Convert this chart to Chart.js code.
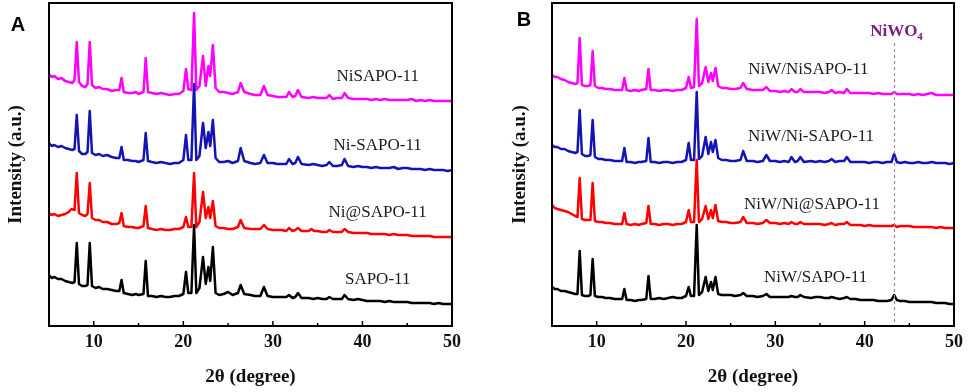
<!DOCTYPE html>
<html>
<head>
<meta charset="utf-8">
<script src="https://cdn.jsdelivr.net/npm/chart.js@4.4.1/dist/chart.umd.min.js"></script>
<style>
	html, body { margin: 0; padding: 0; background: #fff; }
	#wrap { position: relative; width: 969px; height: 392px; }
	canvas { position: absolute; top: 0; }
	#chartA { left: 0; }
	#chartB { left: 484px; }
</style>
</head>
<body>
<div id="wrap">
	<canvas id="chartA" width="484" height="392"></canvas>
	<canvas id="chartB" width="485" height="392"></canvas>
</div>
<script>
// x tick labels (2theta, degree)
var tickLabels = [10, 20, 30, 40, 50];
var minorTicks = [15, 25, 35, 45];

// panel A : [2theta, intensity (a.u., stacked)]
var sapoA = [[5.0,51],[5.3,48],[5.6,49],[6.0,47],[6.4,47],[6.8,45],[7.2,44],[7.6,43],[7.85,44],[8.1,83],[8.35,42],[8.7,40],[9.05,40],[9.3,41],[9.55,83],[9.8,40],[10.2,38],[10.6,39],[11.0,37],[11.5,37],[12.0,36],[12.5,35],[12.85,35],[13.1,46],[13.35,33],[13.8,32],[14.3,31],[14.7,32],[15.0,31],[15.55,32],[15.8,65],[16.05,30],[16.5,30],[17.0,29],[17.5,30],[18.0,29],[18.5,29],[19.0,30],[19.5,30],[20.0,32],[20.3,54],[20.55,33],[20.9,33],[21.2,101],[21.45,33],[21.8,38],[22.2,69],[22.5,42],[22.8,59],[23.0,45],[23.3,79],[23.6,33],[24.0,31],[24.5,32],[25.0,34],[25.5,31],[26.1,33],[26.4,41],[26.8,32],[27.5,31],[28.0,30],[28.6,30],[29.0,39],[29.4,30],[30.0,29],[30.5,29],[31.0,29],[31.5,29],[31.8,31],[32.2,28],[32.5,29],[32.8,33],[33.2,28],[34.0,28],[34.5,27],[35.0,28],[35.5,27],[36.0,27],[36.3,29],[36.7,27],[37.2,27],[37.7,27],[38.0,31],[38.4,27],[39.0,26],[39.5,27],[40.0,26],[40.5,25],[41.0,25],[41.5,25],[42.0,25],[42.5,24],[43.0,25],[43.5,24],[44.0,24],[44.5,24],[45.0,24],[45.5,23],[46.0,23],[46.5,23],[47.0,23],[47.5,23],[48.0,22],[48.5,23],[49.0,22],[49.5,22],[50.0,22]];

var niAtSapoA = [[5.0,113],[5.3,111],[5.6,112],[6.0,110],[6.4,111],[6.8,112],[7.2,114],[7.5,117],[7.85,116],[8.1,153],[8.35,113],[8.7,111],[9.05,110],[9.3,112],[9.55,143],[9.8,108],[10.2,106],[10.6,106],[11.0,104],[11.5,104],[12.0,102],[12.5,102],[12.85,103],[13.1,113],[13.35,100],[13.8,99],[14.3,99],[14.7,98],[15.0,98],[15.55,100],[15.8,120],[16.05,98],[16.5,97],[17.0,96],[17.5,97],[18.0,96],[18.5,96],[19.0,97],[19.5,97],[20.0,99],[20.3,109],[20.55,99],[20.9,99],[21.2,153],[21.45,99],[21.8,104],[22.2,134],[22.5,108],[22.8,119],[23.0,108],[23.3,125],[23.6,100],[24.0,98],[24.5,98],[25.0,97],[25.5,97],[26.1,99],[26.4,106],[26.8,98],[27.5,97],[28.0,97],[28.6,97],[29.0,101],[29.4,97],[30.0,96],[30.5,96],[31.0,96],[31.5,95],[31.8,98],[32.2,95],[32.5,96],[32.8,98],[33.2,95],[34.0,95],[34.3,97],[34.6,95],[35.0,95],[35.5,94],[36.0,94],[36.3,96],[36.7,94],[37.2,94],[37.7,94],[38.0,97],[38.4,94],[39.0,93],[39.5,93],[40.0,93],[40.5,93],[41.0,92],[41.5,92],[42.0,92],[42.5,92],[43.0,91],[43.5,92],[44.0,91],[44.5,91],[45.0,91],[45.5,90],[46.0,90],[46.5,90],[47.0,90],[47.5,90],[48.0,89],[48.5,89],[49.0,89],[49.5,89],[50.0,89]];

var niDashSapoA = [[5.0,183],[5.3,180],[5.6,181],[6.0,179],[6.4,180],[6.8,178],[7.2,177],[7.6,176],[7.85,177],[8.1,211],[8.35,175],[8.7,172],[9.05,172],[9.3,174],[9.55,215],[9.8,173],[10.2,171],[10.6,172],[11.0,170],[11.5,171],[12.0,169],[12.5,168],[12.85,168],[13.1,179],[13.35,166],[13.8,166],[14.3,165],[14.7,165],[15.0,164],[15.55,166],[15.8,193],[16.05,165],[16.5,164],[17.0,163],[17.5,164],[18.0,163],[18.5,162],[19.0,163],[19.5,163],[20.0,166],[20.3,191],[20.55,166],[20.9,166],[21.2,242],[21.45,166],[21.8,170],[22.2,203],[22.5,178],[22.8,194],[23.0,180],[23.3,206],[23.6,168],[24.0,164],[24.5,164],[25.0,165],[25.5,163],[26.1,165],[26.4,178],[26.8,165],[27.5,163],[28.0,162],[28.6,163],[29.0,171],[29.4,163],[30.0,163],[30.5,162],[31.0,162],[31.5,162],[31.8,167],[32.2,162],[32.5,163],[32.8,169],[33.2,162],[34.0,161],[34.5,162],[35.0,161],[35.5,160],[36.0,161],[36.3,164],[36.7,160],[37.2,160],[37.7,161],[38.0,167],[38.4,160],[39.0,159],[39.5,160],[40.0,159],[40.5,159],[41.0,158],[41.5,159],[42.0,158],[42.5,158],[43.0,158],[43.5,159],[44.0,157],[44.5,158],[45.0,158],[45.5,157],[46.0,157],[46.5,157],[47.0,156],[47.5,157],[48.0,156],[48.5,156],[49.0,156],[49.5,155],[50.0,156]];

var niSapoA = [[5.0,252],[5.3,249],[5.6,250],[6.0,247],[6.4,248],[6.8,245],[7.2,244],[7.6,243],[7.85,246],[8.1,284],[8.35,244],[8.7,240],[9.05,239],[9.3,242],[9.55,284],[9.8,241],[10.2,238],[10.6,239],[11.0,237],[11.5,237],[12.0,235],[12.5,236],[12.85,236],[13.1,248],[13.35,234],[13.8,233],[14.3,233],[14.7,234],[15.0,232],[15.55,234],[15.8,268],[16.05,234],[16.5,233],[17.0,232],[17.5,233],[18.0,232],[18.5,231],[19.0,232],[19.5,232],[20.0,235],[20.3,257],[20.55,237],[20.9,236],[21.2,313],[21.45,236],[21.8,240],[22.2,270],[22.5,240],[22.8,260],[23.0,250],[23.3,281],[23.6,238],[24.0,234],[24.5,234],[25.0,233],[25.5,232],[26.1,234],[26.4,243],[26.8,234],[27.5,232],[28.0,231],[28.6,231],[29.0,240],[29.4,231],[30.0,230],[30.5,229],[31.0,229],[31.5,229],[31.8,234],[32.2,229],[32.5,230],[32.8,236],[33.2,229],[34.0,228],[34.5,229],[35.0,228],[35.5,228],[36.0,228],[36.3,231],[36.7,227],[37.2,228],[37.7,228],[38.0,233],[38.4,228],[39.0,227],[39.5,227],[40.0,227],[40.5,227],[41.0,226],[41.5,227],[42.0,226],[42.5,227],[43.0,226],[43.5,226],[44.0,226],[44.5,226],[45.0,226],[45.5,227],[46.0,225],[46.5,226],[47.0,225],[47.5,226],[48.0,225],[48.5,225],[49.0,225],[49.5,225],[50.0,225]];

// panel B
var niwSapoB = [[5.0,39],[5.3,37],[5.6,37],[6.0,35],[6.4,35],[6.8,34],[7.2,33],[7.6,32],[7.85,32],[8.1,75],[8.35,31],[8.7,30],[9.05,30],[9.3,31],[9.55,67],[9.8,30],[10.2,29],[10.6,29],[11.0,28],[11.5,28],[12.0,27],[12.5,27],[12.85,27],[13.1,37],[13.35,26],[13.8,26],[14.3,25],[14.7,26],[15.0,26],[15.55,27],[15.8,50],[16.05,27],[16.5,27],[17.0,28],[17.5,27],[18.0,28],[18.5,29],[19.0,28],[19.5,28],[20.0,30],[20.3,39],[20.55,30],[20.9,30],[21.2,101],[21.45,31],[21.8,34],[22.2,49],[22.5,35],[22.8,44],[23.0,36],[23.3,49],[23.6,32],[24.0,31],[24.5,31],[25.0,31],[25.5,30],[26.1,31],[26.4,33],[26.8,30],[27.5,30],[28.0,29],[28.6,30],[29.0,32],[29.4,29],[30.0,29],[30.5,29],[31.0,29],[31.5,29],[31.8,30],[32.2,29],[32.5,29],[32.8,31],[33.2,29],[34.0,28],[34.5,29],[35.0,29],[35.5,28],[36.0,28],[36.3,29],[36.7,28],[37.2,27],[37.7,28],[38.0,29],[38.4,27],[39.0,27],[39.5,26],[40.0,26],[40.5,26],[41.0,26],[41.5,25],[42.0,25],[42.5,25],[43.0,26],[43.3,31],[43.6,26],[44.0,25],[44.5,25],[45.0,24],[45.5,24],[46.0,24],[46.5,24],[47.0,24],[47.5,24],[48.0,23],[48.5,23],[49.0,23],[49.5,22],[50.0,22]];

var niwNiAtSapoB = [[5.0,121],[5.3,118],[5.6,117],[6.0,116],[6.4,115],[6.8,114],[7.2,112],[7.6,110],[7.85,109],[8.1,148],[8.35,107],[8.7,106],[9.05,106],[9.3,106],[9.55,143],[9.8,105],[10.2,104],[10.6,104],[11.0,103],[11.5,103],[12.0,102],[12.5,102],[12.85,102],[13.1,113],[13.35,102],[13.8,101],[14.3,102],[14.7,101],[15.0,102],[15.55,103],[15.8,120],[16.05,102],[16.5,102],[17.0,101],[17.5,102],[18.0,102],[18.5,101],[19.0,102],[19.5,102],[20.0,104],[20.3,116],[20.55,104],[20.9,104],[21.2,166],[21.45,104],[21.8,107],[22.2,120],[22.5,107],[22.8,116],[23.0,108],[23.3,121],[23.6,105],[24.0,104],[24.5,104],[25.0,103],[25.5,103],[26.1,104],[26.4,109],[26.8,103],[27.5,103],[28.0,102],[28.6,103],[29.0,106],[29.4,103],[30.0,103],[30.5,102],[31.0,103],[31.5,102],[31.8,104],[32.2,102],[32.5,102],[32.8,104],[33.2,102],[34.0,102],[34.5,102],[35.0,102],[35.5,101],[36.0,102],[36.3,103],[36.7,101],[37.2,102],[37.7,102],[38.0,104],[38.4,101],[39.0,101],[39.5,101],[40.0,100],[40.5,101],[41.0,100],[41.5,100],[42.0,100],[42.5,100],[43.0,100],[43.3,101],[43.6,99],[44.0,100],[44.5,100],[45.0,100],[45.5,99],[46.0,99],[46.5,99],[47.0,99],[47.5,99],[48.0,98],[48.5,99],[49.0,98],[49.5,98],[50.0,98]];

var niwNiDashSapoB = [[5.0,181],[5.3,179],[5.6,179],[6.0,177],[6.4,177],[6.8,175],[7.2,174],[7.6,173],[7.85,174],[8.1,216],[8.35,172],[8.7,170],[9.05,170],[9.3,171],[9.55,206],[9.8,169],[10.2,167],[10.6,167],[11.0,166],[11.5,166],[12.0,165],[12.5,165],[12.85,165],[13.1,178],[13.35,164],[13.8,164],[14.3,163],[14.7,164],[15.0,164],[15.55,165],[15.8,188],[16.05,164],[16.5,164],[17.0,163],[17.5,164],[18.0,164],[18.5,163],[19.0,164],[19.5,164],[20.0,166],[20.3,183],[20.55,166],[20.9,166],[21.2,234],[21.45,167],[21.8,170],[22.2,189],[22.5,172],[22.8,184],[23.0,174],[23.3,186],[23.6,168],[24.0,166],[24.5,166],[25.0,165],[25.5,165],[26.1,166],[26.4,175],[26.8,165],[27.5,165],[28.0,164],[28.6,165],[29.0,171],[29.4,165],[30.0,165],[30.5,164],[31.0,165],[31.5,164],[31.8,169],[32.2,164],[32.5,165],[32.8,169],[33.2,164],[34.0,165],[34.5,164],[35.0,165],[35.5,164],[36.0,165],[36.3,167],[36.7,164],[37.2,165],[37.7,165],[38.0,169],[38.4,164],[39.0,164],[39.5,164],[40.0,164],[40.5,163],[41.0,164],[41.5,164],[42.0,163],[42.5,164],[43.0,164],[43.3,172],[43.6,164],[44.0,163],[44.5,164],[45.0,163],[45.5,163],[46.0,164],[46.5,163],[47.0,163],[47.5,164],[48.0,163],[48.5,163],[49.0,163],[49.5,162],[50.0,163]];

var niwNiSapoB = [[5.0,251],[5.3,249],[5.6,249],[6.0,247],[6.4,246],[6.8,244],[7.2,243],[7.6,242],[7.85,243],[8.1,288],[8.35,241],[8.7,240],[9.05,240],[9.3,241],[9.55,275],[9.8,240],[10.2,238],[10.6,238],[11.0,237],[11.5,237],[12.0,236],[12.5,236],[12.85,236],[13.1,248],[13.35,236],[13.8,235],[14.3,236],[14.7,235],[15.0,236],[15.55,237],[15.8,257],[16.05,236],[16.5,236],[17.0,235],[17.5,236],[18.0,236],[18.5,235],[19.0,236],[19.5,236],[20.0,238],[20.3,249],[20.55,238],[20.9,239],[21.2,307],[21.45,240],[21.8,243],[22.2,259],[22.5,244],[22.8,253],[23.0,245],[23.3,258],[23.6,240],[24.0,238],[24.5,238],[25.0,237],[25.5,237],[26.1,238],[26.4,243],[26.8,237],[27.5,236],[28.0,236],[28.6,236],[29.0,239],[29.4,235],[30.0,235],[30.5,234],[31.0,235],[31.5,234],[31.8,237],[32.2,234],[32.5,234],[32.8,237],[33.2,234],[34.0,234],[34.5,234],[35.0,234],[35.5,233],[36.0,234],[36.3,236],[36.7,233],[37.2,234],[37.7,233],[38.0,237],[38.4,233],[39.0,233],[39.5,233],[40.0,233],[40.5,233],[41.0,232],[41.5,233],[42.0,232],[42.5,232],[43.0,232],[43.3,234],[43.6,232],[44.0,232],[44.5,232],[45.0,232],[45.5,231],[46.0,232],[46.5,231],[47.0,232],[47.5,233],[48.0,231],[48.5,231],[49.0,231],[49.5,231],[50.0,231]];

var namesA = ['SAPO-11', 'Ni@SAPO-11', 'Ni-SAPO-11', 'NiSAPO-11'];
var namesB = ['NiW/SAPO-11', 'NiW/Ni@SAPO-11', 'NiW/Ni-SAPO-11', 'NiW/NiSAPO-11'];
var colors = ['#000000', '#ff0000', '#1414b4', '#ff00ff'];
var niwo4Angle = 43.3;

var SERIF = '"Liberation Serif", "Times New Roman", serif';

function toXY(arr) {
	return arr.map(p => ({x: p[0], y: p[1]}));
}

// frame, inward ticks, curve labels, panel letter
var decorPlugin = {
	id: 'decor',
	afterDatasetsDraw(chart, args, opts) {
		let ctx = chart.ctx;
		let a = chart.chartArea;
		let xs = chart.scales.x;
		let ys = chart.scales.y;
		ctx.save();

		if (opts.marker) {
			let px = Math.round(xs.getPixelForValue(opts.marker.x)) + 0.5;
			ctx.strokeStyle = '#a77db0';
			ctx.lineWidth = 1.2;
			ctx.setLineDash([3, 3]);
			ctx.beginPath();
			ctx.moveTo(px, ys.getPixelForValue(opts.marker.top));
			ctx.lineTo(px, a.bottom);
			ctx.stroke();
			ctx.setLineDash([]);
			ctx.fillStyle = '#7d1f80';
			ctx.font = 'bold 17px ' + SERIF;
			ctx.textBaseline = 'middle';
			let ty = ys.getPixelForValue(opts.marker.labelY);
			let w = ctx.measureText('NiWO').width;
			ctx.font = 'bold 11px ' + SERIF;
			let w4 = ctx.measureText('4').width;
			let x0 = px - (w + w4) / 2 + 2;
			ctx.font = 'bold 17px ' + SERIF;
			ctx.textAlign = 'left';
			ctx.fillText('NiWO', x0, ty);
			ctx.font = 'bold 11px ' + SERIF;
			ctx.fillText('4', x0 + w, ty + 5);
		}

		ctx.strokeStyle = '#000';
		ctx.lineWidth = 2;
		ctx.strokeRect(a.left, a.top, a.right - a.left, a.bottom - a.top);

		ctx.lineWidth = 1.5;
		tickLabels.forEach(v => {
			let px = xs.getPixelForValue(v);
			ctx.beginPath();
			ctx.moveTo(px, a.bottom);
			ctx.lineTo(px, a.bottom - 5);
			ctx.stroke();
		});
		minorTicks.forEach(v => {
			let px = xs.getPixelForValue(v);
			ctx.beginPath();
			ctx.moveTo(px, a.bottom);
			ctx.lineTo(px, a.bottom - 3);
			ctx.stroke();
		});

		ctx.fillStyle = '#1a1a1a';
		ctx.font = '17px ' + SERIF;
		ctx.textAlign = 'center';
		ctx.textBaseline = 'middle';
		opts.labels.forEach(l => {
			ctx.fillText(l.text, xs.getPixelForValue(l.x), ys.getPixelForValue(l.y));
		});

		ctx.fillStyle = '#000';
		ctx.font = 'bold 20px "Liberation Sans", Arial, sans-serif';
		ctx.fillText(opts.letter.text, opts.letter.x, opts.letter.y);
		ctx.restore();
	}
};

function makeChart(id, series, names, cfg) {
	let ctx = $id(id).getContext('2d');
	return new Chart(ctx, {
		type: 'line',
		data: {
			datasets: series.map((s, i) => ({
				label: names[i],
				data: toXY(s),
				borderColor: colors[i],
				borderWidth: 2.5,
				borderJoinStyle: 'round',
				pointRadius: 0,
				tension: 0,
				fill: false
			}))
		},
		options: {
			responsive: false,
			animation: false,
			devicePixelRatio: 1,
			layout: {
				padding: {left: 0, right: cfg.padRight, top: 3, bottom: 0}
			},
			plugins: {
				legend: {display: false},
				tooltip: {enabled: false},
				decor: cfg.decor
			},
			scales: {
				x: {
					type: 'linear',
					min: 5,
					max: 50,
					afterBuildTicks: (s) => { s.ticks = tickLabels.map(v => ({value: v})); },
					afterFit: (s) => { s.height = 66; },
					grid: {display: false, drawTicks: false},
					border: {display: false},
					ticks: {
						color: '#111',
						padding: 6,
						font: {family: SERIF, size: 18, weight: 'bold', lineHeight: 1.2}
					},
					title: {
						display: true,
						text: '2θ (degree)',
						color: '#111',
						padding: {top: 0, bottom: 4},
						font: {family: SERIF, size: 19, weight: 'bold', lineHeight: 1.2}
					}
				},
				y: {
					min: 0,
					max: 323,
					afterFit: (s) => { s.width = cfg.yWidth; },
					grid: {display: false, drawTicks: false},
					border: {display: false},
					ticks: {display: false},
					title: {
						display: true,
						text: 'Intensity (a.u.)',
						color: '#111',
						padding: {top: cfg.yTitlePad, bottom: 0},
						font: {family: SERIF, size: 19, weight: 'bold', lineHeight: 1.2}
					}
				}
			}
		},
		plugins: [decorPlugin]
	});
}

function $id(id) { return document.getElementById(id); }

makeChart('chartA', [sapoA, niAtSapoA, niDashSapoA, niSapoA], namesA, {
	padRight: 32,
	yWidth: 49,
	yTitlePad: 5,
	decor: {
		letter: {text: 'A', x: 18, y: 25},
		labels: [
			{text: namesA[3], x: 41.7, y: 249},
			{text: namesA[2], x: 41.7, y: 180},
			{text: namesA[1], x: 41.7, y: 113},
			{text: namesA[0], x: 41.7, y: 46}
		]
	}
});

makeChart('chartB', [niwSapoB, niwNiAtSapoB, niwNiDashSapoB, niwNiSapoB], namesB, {
	padRight: 13,
	yWidth: 68,
	yTitlePad: 25,
	decor: {
		letter: {text: 'B', x: 40, y: 20},
		marker: {x: niwo4Angle, top: 283, labelY: 294},
		labels: [
			{text: namesB[3], x: 33.7, y: 256},
			{text: namesB[2], x: 34.0, y: 189},
			{text: namesB[1], x: 34.1, y: 121},
			{text: namesB[0], x: 34.5, y: 48}
		]
	}
});
</script>
</body>
</html>
